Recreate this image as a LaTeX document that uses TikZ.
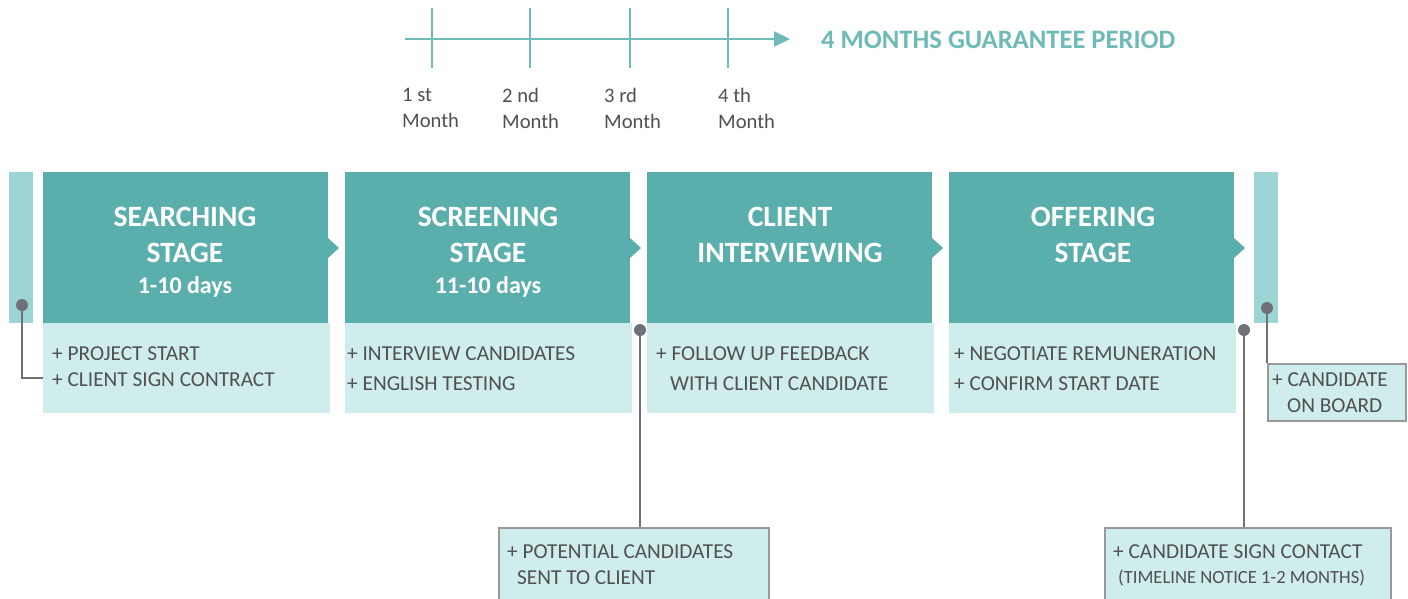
\documentclass[tikz,border=0pt]{standalone}
\usepackage{fontspec}
\setmainfont{Carlito}
\usetikzlibrary{arrows.meta,calc}
\definecolor{dteal}{HTML}{5AAFAC}
\definecolor{mteal}{HTML}{9DD5D4}
\definecolor{lteal}{HTML}{CFEDEC}
\definecolor{lineteal}{HTML}{6DBAB7}
\definecolor{txtgray}{HTML}{505050}
\definecolor{dotgray}{HTML}{707078}
\definecolor{bordgray}{HTML}{999999}
\tikzset{
  darkbox/.style={draw=none,fill=dteal,minimum width=285pt,minimum height=151pt,anchor=north west,inner sep=0pt},
  lightbox/.style={draw=none,fill=lteal,minimum width=287pt,minimum height=90pt,anchor=north west,inner sep=0pt},
  sidebar/.style={draw=none,fill=mteal,minimum width=24pt,minimum height=151pt,anchor=north west,inner sep=0pt},
  notebox/.style={draw=bordgray,line width=1.6pt,fill=lteal,anchor=north west,inner sep=0pt},
  title/.style={text=white,font=\fontsize{29.5}{32}\selectfont\bfseries,anchor=base},
  days/.style={text=white,font=\fontsize{24}{28}\selectfont\bfseries,anchor=base},
  item/.style={text=txtgray,font=\fontsize{21.3}{25}\selectfont,anchor=base west,inner sep=0pt},
  small/.style={text=txtgray,font=\fontsize{18.6}{22}\selectfont,anchor=base west,inner sep=0pt},
  month/.style={text=txtgray,font=\fontsize{20.6}{24}\selectfont,anchor=base west,inner sep=0pt},
  dot/.style={circle,fill=dotgray,minimum size=12pt,inner sep=0pt},
  conn/.style={draw=dotgray,line width=1.6pt},
  tip/.style={fill=dteal,draw=none},
  tick/.style={draw=lineteal,line width=1.3pt},
}
\begin{document}
\begin{tikzpicture}[x=1pt,y=-1pt]
\useasboundingbox (0,0) rectangle (1408,598);
% timeline
\coordinate (tlS) at (405,39);
\coordinate (tlE) at (790,39);
\draw[draw=lineteal,line width=2.2pt,-{Triangle[length=16pt,width=15pt]}] (tlS) -- (tlE);
\foreach \x in {432,530,630,728} \draw[tick] (\x,8) -- (\x,68);
\node[text=lineteal,font=\fontsize{26.6}{30}\selectfont\bfseries,anchor=west,inner sep=0pt] (guar) at (821,40) {4 MONTHS GUARANTEE PERIOD};
\node[month] (m1a) at (402,101) {1 st};
\node[month] (m1b) at (402,127) {Month};
\node[month] (m2a) at (502,102) {2 nd};
\node[month] (m2b) at (502,128) {Month};
\node[month] (m3a) at (604,102) {3 rd};
\node[month] (m3b) at (604,128) {Month};
\node[month] (m4a) at (718,102) {4 th};
\node[month] (m4b) at (718,128) {Month};
% side bars
\node[sidebar] (lbar) at (9,172) {};
\node[sidebar] (rbar) at (1254,172) {};
% stages
\foreach \n/\x in {1/43,2/345,3/647,4/949}{
  \node[lightbox] (l\n) at (\x,323) {};
  \node[darkbox] (s\n) at (\x,172) {};
  \fill[tip] (\x+285,238) -- (\x+296,248) -- (\x+285,258) -- cycle;
}
\node[title] (t1a) at (185,226) {SEARCHING};
\node[title] (t1b) at (185,262) {STAGE};
\node[days] (t1c) at (185,293) {1-10 days};
\node[title] (t2a) at (488,226) {SCREENING};
\node[title] (t2b) at (488,262) {STAGE};
\node[days] (t2c) at (488,293) {11-10 days};
\node[title] (t3a) at (790,226) {CLIENT};
\node[title] (t3b) at (790,262) {INTERVIEWING};
\node[title] (t4a) at (1093,226) {OFFERING};
\node[title] (t4b) at (1093,262) {STAGE};
% items
\node[item] (i1a) at (52,360) {+ PROJECT START};
\node[item] (i1b) at (52,386) {+ CLIENT SIGN CONTRACT};
\node[item] (i2a) at (347,360) {+ INTERVIEW CANDIDATES};
\node[item] (i2b) at (347,390) {+ ENGLISH TESTING};
\node[item] (i3a) at (656,360) {+ FOLLOW UP FEEDBACK};
\node[item] (i3b) at (670,390) {WITH CLIENT CANDIDATE};
\node[item] (i4a) at (954,360) {+ NEGOTIATE REMUNERATION};
\node[item] (i4b) at (954,390) {+ CONFIRM START DATE};
% note boxes
\node[notebox,minimum width=270pt,minimum height=74pt] (pot) at (498,527) {};
\node[item] (pota) at (507,558) {+ POTENTIAL CANDIDATES};
\node[item] (potb) at (517,584) {SENT TO CLIENT};
\node[notebox,minimum width=286pt,minimum height=74pt] (sign) at (1104,527) {};
\node[item] (signa) at (1113,558) {+ CANDIDATE SIGN CONTACT};
\node[small] (signb) at (1118,583) {(TIMELINE NOTICE 1-2 MONTHS)};
\node[notebox,minimum width=138pt,minimum height=57pt] (onb) at (1267,363) {};
\node[item] (onba) at (1272,386) {+ CANDIDATE};
\node[item] (onbb) at (1287,412) {ON BOARD};
% dots and connectors
\node[dot] (d1) at (22,305) {};
\node[dot] (d2) at (640,330) {};
\node[dot] (d3) at (1244,330) {};
\node[dot] (d4) at (1267,308) {};
\coordinate (c1) at (43,378);
\draw[conn] (d1.center) |- (c1);
\draw[conn] (d2.center) -- (d2 |- pot.north);
\draw[conn] (d3.center) -- (d3 |- sign.north);
\draw[conn] (d4.center) -- (d4 |- onb.north);
\end{tikzpicture}
\end{document}
